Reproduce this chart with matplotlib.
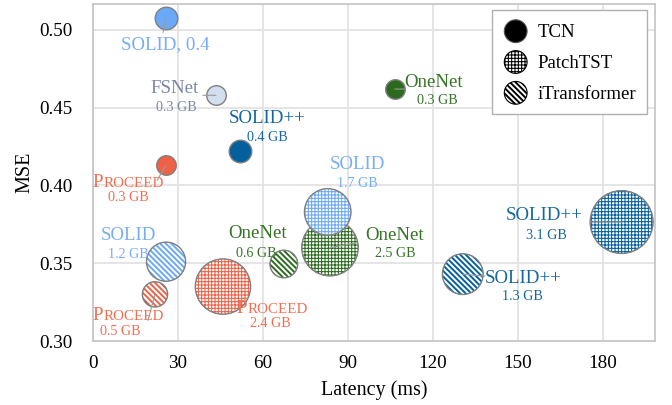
import matplotlib
matplotlib.use('Agg')
import matplotlib.pyplot as plt
import matplotlib.patches as mpatches
from matplotlib.legend_handler import HandlerPatch
from matplotlib.offsetbox import TextArea, HPacker, AnnotationBbox
from matplotlib.colors import to_rgba

plt.rcParams['font.family'] = ['Liberation Serif', 'DejaVu Serif']

# ---------------- data ----------------
methods = ["SOLID", "FSNet", "SOLID++", "PROCEED", "OneNet",
           "OneNet", "SOLID", "SOLID++", "PROCEED",
           "SOLID", "OneNet", "PROCEED", "SOLID++"]
backbones = ["TCN", "TCN", "TCN", "TCN", "TCN",
             "PatchTST", "PatchTST", "PatchTST", "PatchTST",
             "iTransformer", "iTransformer", "iTransformer", "iTransformer"]
latency_ms = [25.8, 43.4, 51.9, 25.8, 106.6,
              83.7, 82.9, 186.7, 45.9,
              25.8, 67.4, 21.9, 130.6]
mse = [0.508, 0.458, 0.422, 0.413, 0.462,
       0.360, 0.383, 0.3765, 0.335,
       0.351, 0.3495, 0.330, 0.343]
memory_gb = [0.4, 0.3, 0.4, 0.3, 0.3,
             2.5, 1.7, 3.1, 2.4,
             1.2, 0.6, 0.5, 1.3]
x_ticks = [0, 30, 60, 90, 120, 150, 180]
y_ticks = [0.30, 0.35, 0.40, 0.45, 0.50]
legend_labels = ["TCN", "PatchTST", "iTransformer"]

# ---------------- styles ----------------
face_colors = {"SOLID": "#6aa8f8", "FSNet": "#d3deef", "SOLID++": "#03609d",
               "PROCEED": "#ef6147", "OneNet": "#2c6b1f"}
text_colors = {"SOLID": "#76adf6", "FSNet": "#7b87a6", "SOLID++": "#15679f",
               "PROCEED": "#f26d50", "OneNet": "#357527"}
hatches = {"TCN": None, "PatchTST": "+++++", "iTransformer": "\\\\\\\\\\\\"}
hatch_lw = {"TCN": 1.0, "PatchTST": 0.75, "iTransformer": 1.4}

# label offsets in pixels (dx, dy with dy pointing down)
name_offsets = [(-1, 27), (-41, -7), (27, -33), (-38, 17), (39, -7),
                (65, -12), (30, -47), (-77, -7), (49, 22),
                (-38, -26), (-26, -31), (-27, 21), (60, 4)]
gb_offsets = [None, (-40, 12), (27, -14), (-38, 32), (43, 11),
              (65, 6), (30, -28), (-75, 13), (47, 37),
              (-38, -7), (-28, -11), (-35, 37), (60, 22)]
leader_offsets = [(-3, 15), (-13, 0), None, (-9, 15), (10, 0),
                  (27, -5), None, (-32, 0), None,
                  None, None, (-7, 26), (22, 2)]

SIZE_PER_GB = 660
NAME_FS = 13.6
GB_FS = 10.2
EDGE = "#808080"

fig = plt.figure(figsize=(6.72, 4.05), dpi=100)
ax = fig.add_axes([93 / 672, 1 - 341 / 405, (655 - 93) / 672, (341 - 4) / 405])

ax.set_xlim(0, 198.5)
ax.set_ylim(0.30, 0.5167)
ax.set_xticks(x_ticks)
ax.set_yticks(y_ticks)
ax.set_yticklabels([f"{v:.2f}" for v in y_ticks])
ax.tick_params(axis='both', length=0, labelsize=13.8)
ax.tick_params(axis='y', pad=15)
ax.tick_params(axis='x', pad=10)
ax.grid(True, color="#e3e3e3", lw=1.3)
ax.set_axisbelow(True)
for s in ax.spines.values():
    s.set_color("#c4c4c4")
    s.set_linewidth(1.2)
ax.set_xlabel("Latency (ms)", fontsize=14.5, labelpad=6)
ax.set_ylabel("MSE", fontsize=14.5, labelpad=3)

for i in range(len(methods)):
    m = methods[i]
    b = backbones[i]
    col = face_colors[m]
    size = SIZE_PER_GB * memory_gb[i]
    h = hatches[b]
    if h is None:
        ax.scatter([latency_ms[i]], [mse[i]], s=size, color=col,
                   edgecolors=EDGE, linewidths=1.0, zorder=3 + i * 0.01)
    else:
        with plt.rc_context({'hatch.color': col, 'hatch.linewidth': hatch_lw[b]}):
            sc = ax.scatter([latency_ms[i]], [mse[i]], s=size, facecolors='white',
                            edgecolors=col, linewidths=0.3, hatch=h,
                            zorder=3 + i * 0.01)
        sc._hatch_color = to_rgba(col)
        sc._hatch_linewidth = hatch_lw[b]
        ax.scatter([latency_ms[i]], [mse[i]], s=size, facecolors='none',
                   edgecolors=EDGE, linewidths=1.0, zorder=3 + i * 0.01 + 0.005)

    tc = text_colors[m]
    # leader line
    if leader_offsets[i] is not None:
        ldx, ldy = leader_offsets[i]
        ax.annotate('', xy=(latency_ms[i], mse[i]), xytext=(ldx, -ldy),
                    textcoords='offset pixels',
                    arrowprops=dict(arrowstyle='-', color="#9a9a9a", lw=0.8,
                                    shrinkA=0, shrinkB=0), zorder=5)
    # name label
    dx, dy = name_offsets[i]
    if gb_offsets[i] is None:
        name = f"{m}, {memory_gb[i]}"
    else:
        name = m
    if m == "PROCEED":
        box = HPacker(children=[TextArea("P", textprops=dict(size=NAME_FS, color=tc)),
                                TextArea("ROCEED", textprops=dict(size=10.8, color=tc))],
                      align='baseline', pad=0, sep=0)
        ab = AnnotationBbox(box, (latency_ms[i], mse[i]), xybox=(dx, -dy),
                            xycoords='data', boxcoords='offset pixels',
                            frameon=False, box_alignment=(0.5, 0.5), zorder=6)
        ax.add_artist(ab)
    else:
        ax.annotate(name, xy=(latency_ms[i], mse[i]), xytext=(dx, -dy),
                    textcoords='offset pixels', ha='center', va='center',
                    fontsize=NAME_FS, color=tc, zorder=6)
    if gb_offsets[i] is not None:
        gx, gy = gb_offsets[i]
        ax.annotate(f"{memory_gb[i]} GB", xy=(latency_ms[i], mse[i]), xytext=(gx, -gy),
                    textcoords='offset pixels', ha='center', va='center',
                    fontsize=GB_FS, color=tc, zorder=6)

# ---------------- legend ----------------
def make_circle(legend, orig_handle, xdescent, ydescent, width, height, fontsize):
    r = 8.2
    return mpatches.Circle((width / 2 - xdescent, height / 2 - ydescent), r)

handles = []
for lab in legend_labels:
    h = hatches[lab]
    if h is None:
        p = mpatches.Circle((0, 0), 1, facecolor='black', edgecolor='#555555', lw=0.8)
    else:
        p = mpatches.Circle((0, 0), 1, facecolor='white', edgecolor='black', lw=0.8, hatch=h)
    handles.append(p)

leg = ax.legend(handles, legend_labels, loc='upper right', bbox_to_anchor=(0.986, 0.983),
                borderaxespad=0, fancybox=False, framealpha=1, edgecolor='#b0b0b0',
                fontsize=13.5, labelspacing=0.55, handlelength=1.3, handleheight=1.3,
                handletextpad=0.5, borderpad=0.6,
                handler_map={mpatches.Circle: HandlerPatch(patch_func=make_circle)})
leg.get_frame().set_linewidth(1.0)
leg.set_zorder(10)
for lab, lh in zip(legend_labels, leg.legend_handles):
    lh._hatch_color = to_rgba('black')
    lh._hatch_linewidth = hatch_lw[lab]

fig.savefig("out.png", dpi=100)
